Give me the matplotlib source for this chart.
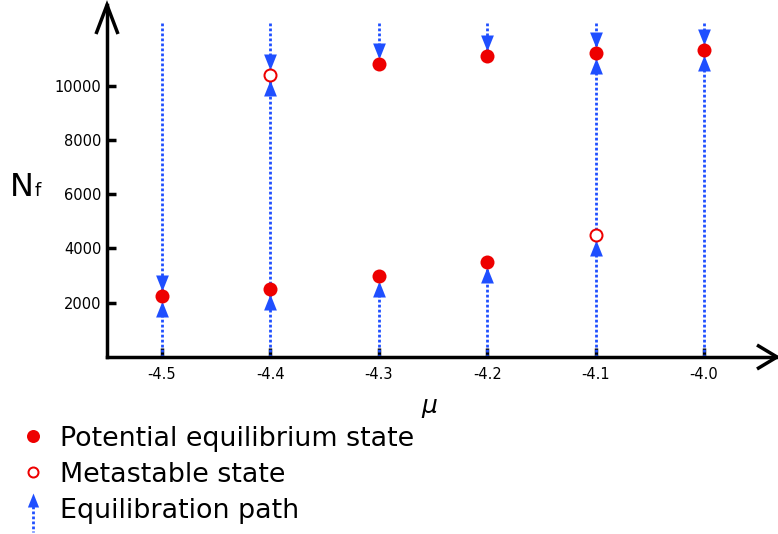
import matplotlib
matplotlib.use("Agg")
import matplotlib.pyplot as plt
from matplotlib.lines import Line2D
from matplotlib.transforms import ScaledTranslation

plt.rcParams["font.family"] = ["DejaVu Sans"]
plt.rcParams["axes.unicode_minus"] = False

# ---- data -------------------------------------------------------------
mu_ticks = [-4.5, -4.4, -4.3, -4.2, -4.1, -4.0]
nf_ticks = [2000, 4000, 6000, 8000, 10000]

# potential equilibrium states (filled)
eq_mu = [-4.5, -4.4, -4.3, -4.3, -4.2, -4.2, -4.1, -4.0]
eq_nf = [2250, 2500, 3000, 10800, 3500, 11100, 11200, 11300]

# metastable states (open)
meta_mu = [-4.4, -4.1]
meta_nf = [10400, 4500]

# equilibration paths: start value -> end value (arrow at the end)
path_mu = [-4.5, -4.5, -4.4, -4.4, -4.4, -4.3, -4.3, -4.2, -4.2,
           -4.1, -4.1, -4.1, -4.0, -4.0]
path_start = [0, 12300, 0, 2500, 12300, 0, 12300, 0, 12300,
              0, 4500, 12300, 0, 12300]
path_end = [2250, 2250, 2500, 10400, 10400, 3000, 10800, 3500, 11100,
            4500, 11200, 11200, 11300, 11300]

RED = "#ee0000"
BLUE = "#1f4fff"

# ---- figure -----------------------------------------------------------
W, H = 778, 534
fig = plt.figure(figsize=(W / 100, H / 100), dpi=100)
ax_l, ax_r, ax_t, ax_b = 107, 777, 5, 357
ax = fig.add_axes([ax_l / W, (H - ax_b) / H, (ax_r - ax_l) / W, (ax_b - ax_t) / H])
ax.set_xlim(-4.5 - 55 / 1084, -4.0 + 73 / 1084)
ax.set_ylim(0, 12970)

# arrow-head marker (tall narrow triangle)
head_up = [(0, 1), (-0.8, -1), (0.8, -1), (0, 1)]
head_dn = [(0, -1), (-0.8, 1), (0.8, 1), (0, -1)]
px = 72 / fig.dpi  # points per pixel

for x, s, e in zip(path_mu, path_start, path_end):
    ax.plot([x, x], [s, e], color=BLUE, lw=2.0, linestyle=(0, (1.0, 0.8)),
            zorder=2, solid_capstyle="butt", dash_capstyle="butt")
    up = e > s
    dy = (-13 if up else 13) * px / 72
    tr = ax.transData + ScaledTranslation(0, dy, fig.dpi_scale_trans)
    ax.plot([x], [e], marker=head_up if up else head_dn, markersize=16 * px,
            color=BLUE, markeredgewidth=0, transform=tr, zorder=3)

ax.plot(eq_mu, eq_nf, linestyle="none", marker="o", markersize=14 * px,
        color=RED, markeredgewidth=0, zorder=4)
ax.plot(meta_mu, meta_nf, linestyle="none", marker="o", markersize=12 * px,
        markerfacecolor="white", markeredgecolor=RED, markeredgewidth=2.0 * px,
        zorder=4)

# ---- axes styling -----------------------------------------------------
for side in ("top", "right"):
    ax.spines[side].set_visible(False)
for side in ("left", "bottom"):
    ax.spines[side].set_linewidth(2.5)
    ax.spines[side].set_color("black")

ax.set_xticks(mu_ticks)
ax.set_xticklabels([f"{v:.1f}" for v in mu_ticks])
ax.set_yticks(nf_ticks)
ax.set_yticklabels([str(v) for v in nf_ticks])
ax.tick_params(axis="both", direction="in", length=6.5, width=2.5,
               labelsize=10.5, color="black")
ax.tick_params(axis="x", pad=7)
ax.tick_params(axis="y", pad=4)

# open arrow heads at the ends of both axes
aw, ah = ax_r - ax_l, ax_b - ax_t
ax.plot([-11 / aw, 0, 11 / aw], [1 - 29 / ah, 1, 1 - 29 / ah],
        transform=ax.transAxes, color="black", lw=2.5, clip_on=False,
        solid_joinstyle="miter", solid_capstyle="butt")
ax.plot([1 - 20 / aw, 1, 1 - 20 / aw], [12 / ah, 0, -12 / ah],
        transform=ax.transAxes, color="black", lw=2.5, clip_on=False,
        solid_joinstyle="miter", solid_capstyle="butt")

# axis labels
fig.text(10 / W, (H - 196) / H, "N", fontsize=23, va="baseline", ha="left")
fig.text(35 / W, (H - 196) / H, "f", fontsize=13, va="baseline", ha="left")
fig.text(430 / W, (H - 408) / H, r"$\mu$", fontsize=18, va="center", ha="center")

# ---- legend -----------------------------------------------------------
def fx(p):
    return p / W


def fy(p):
    return (H - p) / H


fig.add_artist(Line2D([fx(33)], [fy(436)], transform=fig.transFigure,
                      marker="o", markersize=13 * px, color=RED,
                      markeredgewidth=0, linestyle="none"))
fig.add_artist(Line2D([fx(33)], [fy(472)], transform=fig.transFigure,
                      marker="o", markersize=10 * px, markerfacecolor="white",
                      markeredgecolor=RED, markeredgewidth=2.0 * px,
                      linestyle="none"))
fig.add_artist(Line2D([fx(33), fx(33)], [fy(506), fy(532)],
                      transform=fig.transFigure, color=BLUE, lw=2.0,
                      linestyle=(0, (1.0, 0.8))))
fig.add_artist(Line2D([fx(33)], [fy(500)], transform=fig.transFigure,
                      marker=head_up, markersize=14 * px, color=BLUE,
                      markeredgewidth=0, linestyle="none"))

legend_labels = ["Potential equilibrium state", "Metastable state",
                 "Equilibration path"]
for lbl, base in zip(legend_labels, [446, 482, 518]):
    fig.text(fx(60), fy(base), lbl, fontsize=19.4, va="baseline", ha="left")

fig.savefig("out.png", dpi=100)
